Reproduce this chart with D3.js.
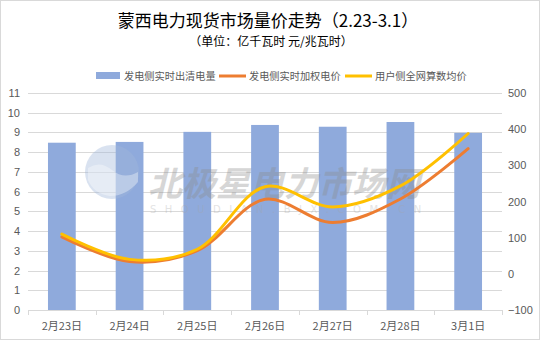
<!DOCTYPE html>
<html>
<head>
<meta charset="utf-8">
<script src="https://d3js.org/d3.v7.min.js"></script>
<style>
  body { margin: 0; background: #fff; font-family: "Noto Sans CJK SC", "Microsoft YaHei", sans-serif; }
</style>
</head>
<body>
<svg id="chart" width="540" height="340"></svg>
<script>
// 2.23 - 3.1
var days = ["2月23日", "2月24日", "2月25日", "2月26日", "2月27日", "2月28日", "3月1日"];
var volume = [8.48, 8.52, 9.03, 9.38, 9.29, 9.53, 8.98];      // 亿千瓦时
var genPrice = [102, 34, 64, 206, 142, 207, 346];             // 元/兆瓦时
var userPrice = [110, 40, 68, 241, 185, 243, 388];
var leftTicks = [0, 1, 2, 3, 4, 5, 6, 7, 8, 9, 10, 11];
var rightTicks = [-100, 0, 100, 200, 300, 400, 500];
var names = ["发电侧实时出清电量", "发电侧实时加权电价", "用户侧全网算数均价"];

var svg = d3.select("#chart");
var pLeft = 28, pRight = 502, pTop = 93, pBottom = 310;

svg.append("rect").attr("x", 0.5).attr("y", 0.5).attr("width", 539).attr("height", 339)
   .attr("fill", "#fff").attr("stroke", "#d9d9d9");

var x = d3.scaleBand().domain(days).range([pLeft, pRight]).paddingInner(0.59).paddingOuter(0.295);
var xb = d3.scaleBand().domain(days).range([pLeft, pRight]);
var yL = d3.scaleLinear().domain([0, 11]).range([pBottom, pTop]);
var yR = d3.scaleLinear().domain([-100, 500]).range([pBottom, pTop]);

// gridlines
svg.append("g").selectAll("line").data(leftTicks.slice(1)).join("line")
   .attr("x1", pLeft).attr("x2", pRight)
   .attr("y1", d => Math.round(yL(d)) + 0.5).attr("y2", d => Math.round(yL(d)) + 0.5)
   .attr("stroke", "#d9d9d9").attr("stroke-width", 1);

// bars
svg.append("g").selectAll("rect").data(volume).join("rect")
   .attr("x", (d, i) => x(days[i])).attr("width", x.bandwidth())
   .attr("y", d => yL(d)).attr("height", d => yL(0) - yL(d))
   .attr("fill", "#8faadc");

// watermark (sits over the bars, under the lines)
var wm = svg.append("g");
wm.append("circle").attr("cx", 112).attr("cy", 172).attr("r", 27).attr("fill", "#9fb6d9").attr("opacity", 0.4);
wm.append("path").attr("d", "M88,168 Q100,160 112,170 Q124,180 138,172 L138,182 Q126,196 110,196 Q94,194 88,180 Z")
   .attr("fill", "#fff").attr("opacity", 0.35);
wm.append("text").attr("x", 148).attr("y", 196).text("北极星电力市场网")
   .attr("font-size", 34).attr("font-weight", "bold").attr("font-style", "italic")
   .attr("fill", "#8c8c8c").attr("opacity", 0.35);
wm.append("text").attr("x", 150).attr("y", 213).text("SHOUDIAN.BJX.COM.CN")
   .attr("font-size", 10).attr("letter-spacing", 8.5).attr("font-family", "DejaVu Sans")
   .attr("fill", "#a6a6a6").attr("opacity", 0.3);

// lines
var line = d3.line().x((d, i) => xb(days[i]) + xb.bandwidth() / 2).y(d => yR(d))
   .curve(d3.curveCatmullRom.alpha(0.5));
svg.append("path").datum(genPrice).attr("d", line).attr("fill", "none")
   .attr("stroke", "#ed7d31").attr("stroke-width", 3).attr("stroke-linecap", "round");
svg.append("path").datum(userPrice).attr("d", line).attr("fill", "none")
   .attr("stroke", "#ffc000").attr("stroke-width", 3).attr("stroke-linecap", "round");

// x axis
var xAxis = svg.append("g").attr("transform", "translate(0," + pBottom + ")");
xAxis.append("line").attr("x1", pLeft).attr("x2", pRight).attr("y1", 0.5).attr("y2", 0.5).attr("stroke", "#d9d9d9");
xAxis.selectAll("line.tk").data(d3.range(days.length + 1)).join("line").attr("class", "tk")
   .attr("x1", i => Math.round(pLeft + i * xb.step()) + 0.5).attr("x2", i => Math.round(pLeft + i * xb.step()) + 0.5)
   .attr("y1", 0).attr("y2", 5).attr("stroke", "#d9d9d9");
xAxis.selectAll("text").data(days).join("text")
   .attr("x", d => xb(d) + xb.bandwidth() / 2).attr("y", 20)
   .attr("text-anchor", "middle").attr("font-size", 11).attr("fill", "#595959").text(d => d);

// y axes labels
svg.append("g").selectAll("text").data(leftTicks).join("text")
   .attr("x", 20).attr("y", d => yL(d) + 4).attr("text-anchor", "end")
   .attr("font-size", 11).attr("fill", "#595959").attr("font-family", "Liberation Sans, Arial").text(d => d);
svg.append("g").selectAll("text").data(rightTicks).join("text")
   .attr("x", 508).attr("y", d => yR(d) + 4).attr("text-anchor", "start")
   .attr("font-size", 11).attr("fill", "#595959").attr("font-family", "Liberation Sans, Arial")
   .text(d => d < 0 ? "\u2212" + Math.abs(d) : d);

// title
svg.append("text").attr("x", 268).attr("y", 27).attr("text-anchor", "middle")
   .attr("font-size", 17).attr("fill", "#000").text("蒙西电力现货市场量价走势（2.23-3.1）");
svg.append("text").attr("x", 271).attr("y", 46).attr("text-anchor", "middle")
   .attr("font-size", 12).attr("fill", "#000").text("（单位：亿千瓦时 元/兆瓦时）");

// legend
var lg = svg.append("g").attr("font-size", 10.2).attr("fill", "#595959");
lg.append("rect").attr("x", 96).attr("y", 72).attr("width", 24).attr("height", 7).attr("fill", "#8faadc");
lg.append("text").attr("x", 124).attr("y", 80).text(names[0]);
lg.append("line").attr("x1", 219).attr("x2", 246).attr("y1", 76).attr("y2", 76).attr("stroke", "#ed7d31").attr("stroke-width", 3);
lg.append("text").attr("x", 249).attr("y", 80).text(names[1]);
lg.append("line").attr("x1", 345).attr("x2", 372).attr("y1", 76).attr("y2", 76).attr("stroke", "#ffc000").attr("stroke-width", 3);
lg.append("text").attr("x", 375).attr("y", 80).text(names[2]);
</script>
</body>
</html>
